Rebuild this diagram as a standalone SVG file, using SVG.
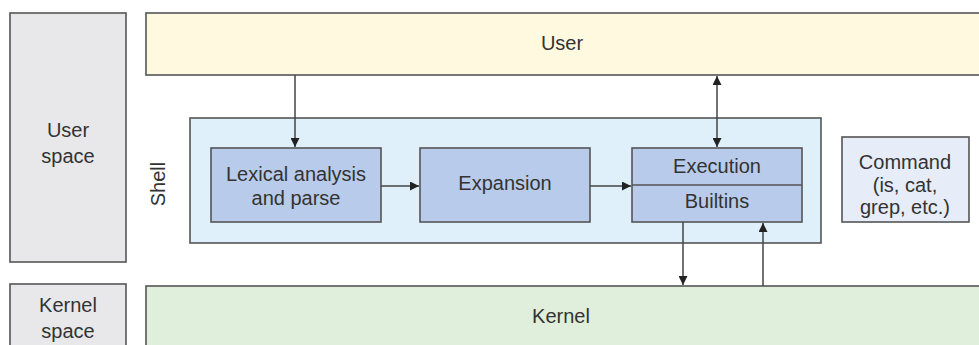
<svg xmlns="http://www.w3.org/2000/svg" width="979" height="345" viewBox="0 0 979 345">
<defs>
<style>
.b{stroke:#555;stroke-width:1.6}
.t{font-family:"Liberation Sans",Arial,sans-serif;font-size:20px;fill:#333;text-anchor:middle}
.c{stroke:#444;stroke-width:1.5;fill:none}
</style>
<marker id="ah" viewBox="0 0 10 10" refX="10" refY="5" markerWidth="10" markerHeight="9" markerUnits="userSpaceOnUse" orient="auto-start-reverse">
<path d="M0,0 L10,5 L0,10 z" fill="#222"/>
</marker>
</defs>
<g id="userspace"><rect class="b" x="10" y="13" width="116" height="249" fill="#e8e8ea"/><text class="t" x="68" y="137">User</text><text class="t" x="68" y="163">space</text></g>
<g id="kernelspace"><rect class="b" x="10" y="284" width="116" height="70" fill="#e8e8ea"/><text class="t" x="68" y="312">Kernel</text><text class="t" x="68" y="338">space</text></g>
<g id="user"><rect class="b" x="146" y="13" width="840" height="62" fill="#fff9e0"/><text class="t" x="562" y="50">User</text></g>
<g id="kernel"><rect class="b" x="146" y="286" width="840" height="70" fill="#e0eedc"/><text class="t" x="561" y="323">Kernel</text></g>
<g id="shell"><rect class="b" x="190" y="118" width="631" height="125" fill="#dff0fb"/><text class="t" transform="translate(165,184) rotate(-90)">Shell</text></g>
<g id="lexical"><rect class="b" x="211" y="148" width="170" height="74" fill="#b8cbea"/><text class="t" x="296" y="181">Lexical analysis</text><text class="t" x="296" y="205">and parse</text></g>
<g id="expansion"><rect class="b" x="420" y="148" width="170" height="74" fill="#b8cbea"/><text class="t" x="505" y="190">Expansion</text></g>
<g id="execution"><rect class="b" x="632" y="148" width="170" height="74" fill="#b8cbea"/><line class="b" x1="632" y1="185" x2="802" y2="185"/><text class="t" x="717" y="173">Execution</text><text class="t" x="717" y="208">Builtins</text></g>
<g id="command"><rect class="b" x="842" y="137" width="127" height="85" fill="#e6ecf8"/><text class="t" x="905" y="169">Command</text><text class="t" x="905" y="192">(is, cat,</text><text class="t" x="905" y="214">grep, etc.)</text></g>
<g id="connectors">
<line class="c" x1="295" y1="75" x2="295" y2="147" marker-end="url(#ah)"/>
<line class="c" x1="717" y1="76" x2="717" y2="147" marker-start="url(#ah)" marker-end="url(#ah)"/>
<line class="c" x1="381" y1="186" x2="419" y2="186" marker-end="url(#ah)"/>
<line class="c" x1="590" y1="186" x2="631" y2="186" marker-end="url(#ah)"/>
<line class="c" x1="683" y1="222" x2="683" y2="285" marker-end="url(#ah)"/>
<line class="c" x1="763" y1="286" x2="763" y2="223" marker-end="url(#ah)"/>
</g>
</svg>
